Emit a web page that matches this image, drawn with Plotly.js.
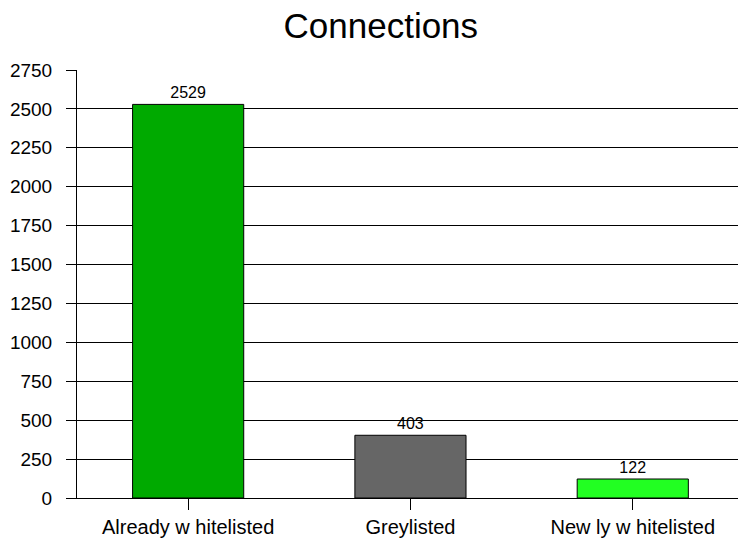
<!DOCTYPE html>
<html><head><meta charset="utf-8">
<script src="https://cdn.plot.ly/plotly-3.0.1.min.js"></script>
<style>html,body{margin:0;padding:0;overflow:hidden;background:#fff}</style>
</head><body>
<div id="chart" style="width:738px;height:540px"></div>
<script>
var categories = ["Already w hitelisted", "Greylisted", "New ly w hitelisted"];
var values = [2529, 403, 122];
var barColors = ["#00aa00", "#666666", "#22ff22"];
var yTicks = [0, 250, 500, 750, 1000, 1250, 1500, 1750, 2000, 2250, 2500, 2750];

var trace = {
  type: "bar",
  x: [0, 1, 2],
  y: values,
  width: 0.5,
  marker: {color: barColors, line: {color: "#000000", width: 1}},
  text: values.map(String),
  textposition: "outside",
  cliponaxis: false,
  textfont: {family: "Liberation Sans, Arial, sans-serif", size: 16, color: "#000"},
  hoverinfo: "skip"
};

var layout = {
  width: 738, height: 540,
  margin: {l: 77, r: 0, t: 70, b: 42, pad: 0},
  paper_bgcolor: "#fff", plot_bgcolor: "#fff",
  showlegend: false,
  bargap: 0.5,
  title: {text: "Connections", font: {family: "Liberation Sans, Arial, sans-serif", size: 35, color: "#000"}, x: 0.516, xanchor: "center", y: 0.952, yanchor: "middle"},
  font: {family: "Liberation Sans, Arial, sans-serif", color: "#000"},
  xaxis: {
    range: [-0.5, -0.5 + 661 / 222.3],
    tickvals: [0, 1, 2],
    ticktext: categories,
    tickson: "boundaries",
    ticks: "outside", ticklen: 11, tickcolor: "#000", tickwidth: 1,
    showgrid: false, zeroline: false,
    showline: true, linecolor: "#000", linewidth: 1,
    tickfont: {size: 20, color: "#000"},
    fixedrange: true
  },
  yaxis: {
    range: [0, 2750],
    tickvals: yTicks,
    ticks: "outside", ticklen: 10, tickcolor: "#000", tickwidth: 1,
    ticklabelstandoff: 10,
    showgrid: true, gridcolor: "#000", gridwidth: 1,
    zeroline: false,
    showline: true, linecolor: "#000", linewidth: 1,
    tickfont: {size: 19, color: "#000"},
    fixedrange: true
  }
};

Plotly.newPlot("chart", [trace], layout, {displayModeBar: false, staticPlot: true});
</script>
</body></html>
